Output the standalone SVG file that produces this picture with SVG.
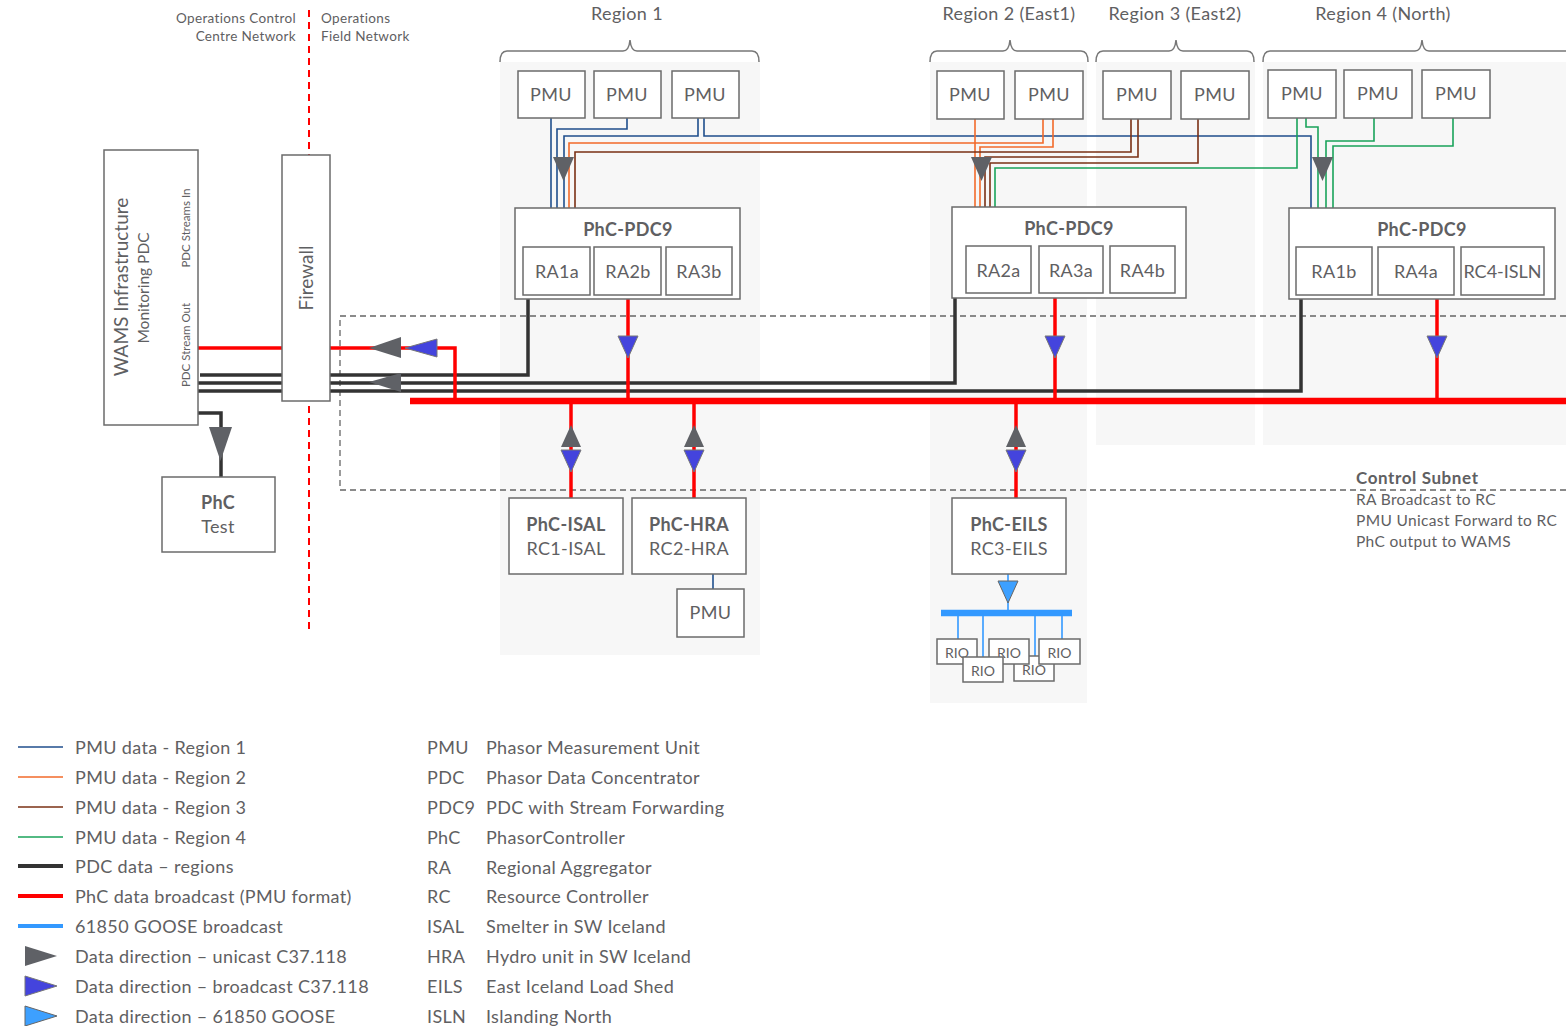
<svg xmlns="http://www.w3.org/2000/svg" width="1566" height="1026" viewBox="0 0 1566 1026">
<style>
.panel{fill:#f7f7f7}
.box{fill:#fff;stroke:#6b6b6b;stroke-width:1.5}
.t{font-family:Lato,"Open Sans","Liberation Sans",sans-serif;fill:#5f6062;letter-spacing:0.35px}
.b{font-weight:bold}
.m{text-anchor:middle}
.e{text-anchor:end}
.ns{letter-spacing:0}
.br{fill:none;stroke:#777;stroke-width:1.5}
.r1{stroke:#1f4e8c;fill:none;stroke-width:1.6}
.r2{stroke:#f26a2a;fill:none;stroke-width:1.6}
.r3{stroke:#7a3015;fill:none;stroke-width:1.6}
.r4{stroke:#1aa35a;fill:none;stroke-width:1.6}
.pdc{stroke:#333;stroke-width:3.5;fill:none}
.red{stroke:#ff0000;stroke-width:3.5;fill:none}
.bus{stroke:#ff0000;stroke-width:6.5;fill:none}
.gl{stroke:#3399ff;stroke-width:1.6;fill:none}
.gbus{stroke:#3399ff;stroke-width:6.5;fill:none}
.ua{fill:#5f6166}
.ba{fill:#4444dd;stroke:#777;stroke-width:1}
.ga{fill:#3da0ff;stroke:#666;stroke-width:1}
.dash{fill:none;stroke:#666;stroke-width:1.3;stroke-dasharray:6 4}
</style>

<!-- region panels -->
<g id="panels">
<rect class="panel" x="500" y="62" width="260" height="593"/>
<rect class="panel" x="930" y="62" width="157" height="641"/>
<rect class="panel" x="1096" y="62" width="159" height="383"/>
<rect class="panel" x="1263" y="62" width="303" height="383"/>
</g>

<!-- brackets and region labels -->
<g id="brackets">
<path class="br" d="M500,62 Q500,51 507,51 L623,51 Q629,51 630,40 Q631,51 637,51 L752,51 Q759,51 759,62"/>
<path class="br" d="M930,62 Q930,51 937,51 L1003,51 Q1009,51 1010,40 Q1011,51 1017,51 L1081,51 Q1088,51 1088,62"/>
<path class="br" d="M1096,62 Q1096,51 1103,51 L1169,51 Q1175,51 1176,40 Q1177,51 1183,51 L1247,51 Q1254,51 1254,62"/>
<path class="br" d="M1263,62 Q1263,51 1270,51 L1415,51 Q1421,51 1422,40 Q1423,51 1429,51 L1566,51"/>
<text class="t m" x="627" y="20" font-size="18">Region 1</text>
<text class="t m" x="1009" y="20" font-size="18">Region 2 (East1)</text>
<text class="t m" x="1175" y="20" font-size="18">Region 3 (East2)</text>
<text class="t m" x="1383" y="20" font-size="18">Region 4 (North)</text>
</g>

<!-- network boundary -->
<g id="boundary">
<line x1="309" y1="10" x2="309" y2="630" stroke="#ff0000" stroke-width="2" stroke-dasharray="7 5"/>
<text class="t e" x="296" y="23" font-size="13.5">Operations Control</text>
<text class="t e" x="296" y="41" font-size="13.5">Centre  Network</text>
<text class="t" x="321" y="23" font-size="13.5">Operations</text>
<text class="t" x="321" y="41" font-size="13.5">Field Network</text>
</g>

<!-- control subnet -->
<g id="control-subnet">
<path class="dash" d="M1566,316 L340,316 L340,490 L1566,490"/>
<text class="t b" x="1356" y="484" font-size="17" style="letter-spacing:0.6px">Control Subnet</text>
<text class="t" x="1356" y="505" font-size="15.5">RA Broadcast to RC</text>
<text class="t" x="1356" y="526" font-size="15.5">PMU Unicast Forward to RC</text>
<text class="t" x="1356" y="547" font-size="15.5">PhC output to WAMS</text>
</g>

<!-- connectors -->
<g id="connectors">
<!-- Region 1 PMU data -->
<path class="r1" d="M551,118 L551,208"/>
<path class="r1" d="M627,118 L627,129 L557,129 L557,208"/>
<path class="r1" d="M698,118 L698,136 L564,136 L564,208"/>
<path class="r1" d="M704,118 L704,136 L1311,136 L1311,208"/>
<!-- Region 2 PMU data -->
<path class="r2" d="M975,119 L975,207"/>
<path class="r2" d="M1043,119 L1043,143 L569,143 L569,208"/>
<path class="r2" d="M1053,119 L1053,147 L980,147 L980,207"/>
<!-- Region 3 PMU data -->
<path class="r3" d="M1131,119 L1131,152 L575,152 L575,208"/>
<path class="r3" d="M1138,119 L1138,157 L985,157 L985,207"/>
<path class="r3" d="M1198,119 L1198,163 L990,163 L990,207"/>
<!-- Region 4 PMU data -->
<path class="r4" d="M1297,118 L1297,168 L995,168 L995,207"/>
<path class="r4" d="M1306,118 L1306,127 L1318,127 L1318,208"/>
<path class="r4" d="M1374,118 L1374,141 L1326,141 L1326,208"/>
<path class="r4" d="M1453,118 L1453,146 L1333,146 L1333,208"/>
<!-- unicast arrows into PDC9 -->
<polygon class="ua" points="553,157 574,157 563.5,181"/>
<polygon class="ua" points="971,157 992,157 981.5,181"/>
<polygon class="ua" points="1312,157 1333,157 1322.5,181"/>

<!-- PDC data regions (black) -->
<path class="pdc" d="M528,299 L528,375 L200,375"/>
<path class="pdc" d="M955,298 L955,383 L198,383"/>
<path class="pdc" d="M1301,299 L1301,391 L198,391"/>
<polygon class="ua" points="369,382 401,373 401,392"/>

<!-- PhC broadcast bus and drops -->
<path class="bus" d="M410,401 L1566,401"/>
<path class="red" d="M628,299 L628,401"/>
<path class="red" d="M1055,298 L1055,401"/>
<path class="red" d="M1437,299 L1437,401"/>
<polygon class="ba" points="618,336 638,336 628,358"/>
<polygon class="ba" points="1045,336 1065,336 1055,358"/>
<polygon class="ba" points="1427,336 1447,336 1437,358"/>

<!-- PhC output to WAMS -->
<path class="red" d="M198,348 L455,348 L455,401"/>
<polygon class="ua" points="369,348 401,337 401,358"/>
<polygon class="ba" points="405,348 437,339 437,357"/>

<!-- bus to RCs -->
<path class="red" d="M571,401 L571,498"/>
<path class="red" d="M694,401 L694,498"/>
<path class="red" d="M1016,401 L1016,498"/>
<polygon class="ua" points="571,425 561,447 581,447"/>
<polygon class="ba" points="561,450 581,450 571,472"/>
<polygon class="ua" points="694,425 684,447 704,447"/>
<polygon class="ba" points="684,450 704,450 694,472"/>
<polygon class="ua" points="1016,425 1006,447 1026,447"/>
<polygon class="ba" points="1006,450 1026,450 1016,472"/>

<!-- WAMS to PhC Test -->
<path d="M198,413 L221,413 L221,477" fill="none" stroke="#333" stroke-width="3.5"/>
<polygon class="ua" points="209,427 232,427 220.5,461"/>

<!-- HRA local PMU -->
<path class="r1" d="M713,574 L713,589"/>

<!-- GOOSE -->
<path class="gl" d="M1008,574 L1008,613"/>
<polygon class="ga" points="998,581 1018,581 1008,603"/>
<path class="gbus" d="M941,613 L1072,613"/>
<path class="gl" d="M958,613 L958,639"/>
<path class="gl" d="M983,613 L983,657"/>
<path class="gl" d="M1035,613 L1035,656"/>
<path class="gl" d="M1062,613 L1062,639"/>
</g>

<!-- nodes -->
<g id="wams">
<rect class="box" x="104" y="150" width="94" height="275"/>
<text class="t m ns" transform="translate(128,287) rotate(-90)" font-size="19">WAMS Infrastructure</text>
<text class="t m ns" transform="translate(149,288) rotate(-90)" font-size="15.5">Monitoring PDC</text>
<text class="t m ns" transform="translate(190,228) rotate(-90)" font-size="11.5">PDC Streams In</text>
<text class="t m ns" transform="translate(190,345) rotate(-90)" font-size="11.5">PDC Stream Out</text>
</g>
<g id="firewall">
<rect class="box" x="282" y="155" width="48" height="246"/>
<text class="t m ns" transform="translate(313,278) rotate(-90)" font-size="19">Firewall</text>
</g>
<g id="phc-test">
<rect class="box" x="162" y="477" width="113" height="75"/>
<text class="t b m" x="218" y="509" font-size="18">PhC</text>
<text class="t m" x="218" y="533" font-size="18">Test</text>
</g>

<g id="r1-pmus">
<rect class="box" x="518" y="71" width="67" height="47"/><text class="t m" x="551" y="101" font-size="18">PMU</text>
<rect class="box" x="594" y="71" width="67" height="47"/><text class="t m" x="627" y="101" font-size="18">PMU</text>
<rect class="box" x="672" y="71" width="67" height="47"/><text class="t m" x="705" y="101" font-size="18">PMU</text>
</g>
<g id="r2-pmus">
<rect class="box" x="937" y="71" width="67" height="48"/><text class="t m" x="970" y="101" font-size="18">PMU</text>
<rect class="box" x="1015" y="71" width="68" height="48"/><text class="t m" x="1049" y="101" font-size="18">PMU</text>
</g>
<g id="r3-pmus">
<rect class="box" x="1103" y="71" width="68" height="48"/><text class="t m" x="1137" y="101" font-size="18">PMU</text>
<rect class="box" x="1181" y="71" width="68" height="48"/><text class="t m" x="1215" y="101" font-size="18">PMU</text>
</g>
<g id="r4-pmus">
<rect class="box" x="1268" y="70" width="68" height="48"/><text class="t m" x="1302" y="100" font-size="18">PMU</text>
<rect class="box" x="1344" y="70" width="68" height="48"/><text class="t m" x="1378" y="100" font-size="18">PMU</text>
<rect class="box" x="1422" y="70" width="68" height="48"/><text class="t m" x="1456" y="100" font-size="18">PMU</text>
</g>

<g id="pdc9-r1">
<rect class="box" x="515" y="208" width="225" height="91"/>
<text class="t b m" x="628" y="236" font-size="18">PhC-PDC9</text>
<rect class="box" x="523" y="247" width="67" height="48"/><text class="t m" x="557" y="278" font-size="18">RA1a</text>
<rect class="box" x="594" y="247" width="67" height="48"/><text class="t m" x="628" y="278" font-size="18">RA2b</text>
<rect class="box" x="666" y="247" width="66" height="48"/><text class="t m" x="699" y="278" font-size="18">RA3b</text>
</g>
<g id="pdc9-r2">
<rect class="box" x="952" y="207" width="234" height="91"/>
<text class="t b m" x="1069" y="235" font-size="18">PhC-PDC9</text>
<rect class="box" x="966" y="246" width="65" height="47"/><text class="t m" x="998.5" y="277" font-size="18">RA2a</text>
<rect class="box" x="1039" y="246" width="64" height="47"/><text class="t m" x="1071" y="277" font-size="18">RA3a</text>
<rect class="box" x="1110" y="246" width="65" height="47"/><text class="t m" x="1142.5" y="277" font-size="18">RA4b</text>
</g>
<g id="pdc9-r4">
<rect class="box" x="1289" y="208" width="266" height="91"/>
<text class="t b m" x="1422" y="236" font-size="18">PhC-PDC9</text>
<rect class="box" x="1296" y="247" width="76" height="48"/><text class="t m" x="1334" y="278" font-size="18">RA1b</text>
<rect class="box" x="1378" y="247" width="76" height="48"/><text class="t m" x="1416" y="278" font-size="18">RA4a</text>
<rect class="box" x="1461" y="247" width="83" height="48"/><text class="t m ns" x="1502.5" y="278" font-size="18">RC4-ISLN</text>
</g>

<g id="phc-isal">
<rect class="box" x="509" y="498" width="114" height="76"/>
<text class="t b m" x="566" y="531" font-size="18">PhC-ISAL</text>
<text class="t m" x="566" y="555" font-size="18">RC1-ISAL</text>
</g>
<g id="phc-hra">
<rect class="box" x="632" y="498" width="114" height="76"/>
<text class="t b m" x="689" y="531" font-size="18">PhC-HRA</text>
<text class="t m" x="689" y="555" font-size="18">RC2-HRA</text>
</g>
<g id="hra-pmu">
<rect class="box" x="677" y="589" width="67" height="48"/><text class="t m" x="710.5" y="619" font-size="18">PMU</text>
</g>
<g id="phc-eils">
<rect class="box" x="952" y="498" width="114" height="76"/>
<text class="t b m" x="1009" y="531" font-size="18">PhC-EILS</text>
<text class="t m" x="1009" y="555" font-size="18">RC3-EILS</text>
</g>
<g id="rios">
<rect class="box" x="1014" y="656" width="40" height="25"/><text class="t m ns" x="1034" y="675" font-size="14">RIO</text>
<rect class="box" x="937" y="639" width="40" height="25"/><text class="t m ns" x="957" y="658" font-size="14">RIO</text>
<rect class="box" x="989" y="639" width="40" height="25"/><text class="t m ns" x="1009" y="658" font-size="14">RIO</text>
<rect class="box" x="1039" y="639" width="41" height="25"/><text class="t m ns" x="1059.5" y="658" font-size="14">RIO</text>
<rect class="box" x="963" y="657" width="40" height="25"/><text class="t m ns" x="983" y="676" font-size="14">RIO</text>
</g>

<!-- legend -->
<g id="legend">
<line x1="18" y1="747" x2="63" y2="747" class="r1"/>
<line x1="18" y1="777" x2="63" y2="777" class="r2"/>
<line x1="18" y1="807" x2="63" y2="807" class="r3"/>
<line x1="18" y1="837" x2="63" y2="837" class="r4"/>
<line x1="18" y1="866" x2="63" y2="866" stroke="#333" stroke-width="4"/>
<line x1="18" y1="896" x2="63" y2="896" stroke="#ff0000" stroke-width="4"/>
<line x1="18" y1="926" x2="63" y2="926" stroke="#3399ff" stroke-width="4"/>
<polygon class="ua" points="25,946 57,956 25,966"/>
<polygon class="ba" points="25,976 57,986 25,996"/>
<polygon class="ga" points="25,1006 57,1016 25,1026"/>
<text class="t" x="75" y="754" font-size="18">PMU data - Region 1</text>
<text class="t" x="75" y="784" font-size="18">PMU data - Region 2</text>
<text class="t" x="75" y="814" font-size="18">PMU data - Region 3</text>
<text class="t" x="75" y="844" font-size="18">PMU data - Region 4</text>
<text class="t" x="75" y="873" font-size="18">PDC data – regions</text>
<text class="t" x="75" y="903" font-size="18">PhC data broadcast (PMU format)</text>
<text class="t" x="75" y="933" font-size="18">61850 GOOSE broadcast</text>
<text class="t" x="75" y="963" font-size="18">Data direction – unicast C37.118</text>
<text class="t" x="75" y="993" font-size="18">Data direction – broadcast C37.118</text>
<text class="t" x="75" y="1023" font-size="18">Data direction – 61850 GOOSE</text>
</g>
<g id="abbreviations">
<text class="t" x="427" y="754" font-size="18">PMU</text><text class="t" x="486" y="754" font-size="18">Phasor Measurement Unit</text>
<text class="t" x="427" y="784" font-size="18">PDC</text><text class="t" x="486" y="784" font-size="18">Phasor Data Concentrator</text>
<text class="t" x="427" y="814" font-size="18">PDC9</text><text class="t" x="486" y="814" font-size="18">PDC with Stream Forwarding</text>
<text class="t" x="427" y="844" font-size="18">PhC</text><text class="t" x="486" y="844" font-size="18">PhasorController</text>
<text class="t" x="427" y="874" font-size="18">RA</text><text class="t" x="486" y="874" font-size="18">Regional Aggregator</text>
<text class="t" x="427" y="903" font-size="18">RC</text><text class="t" x="486" y="903" font-size="18">Resource Controller</text>
<text class="t" x="427" y="933" font-size="18">ISAL</text><text class="t" x="486" y="933" font-size="18">Smelter in SW Iceland</text>
<text class="t" x="427" y="963" font-size="18">HRA</text><text class="t" x="486" y="963" font-size="18">Hydro unit in SW Iceland</text>
<text class="t" x="427" y="993" font-size="18">EILS</text><text class="t" x="486" y="993" font-size="18">East Iceland Load Shed</text>
<text class="t" x="427" y="1023" font-size="18">ISLN</text><text class="t" x="486" y="1023" font-size="18">Islanding North</text>
</g>
</svg>
